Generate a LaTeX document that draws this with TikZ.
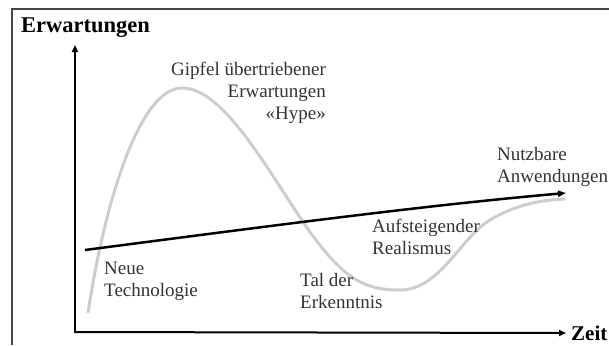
\documentclass[tikz,border=0pt]{standalone}
\usepackage{fontspec}
\setmainfont{Liberation Serif}
\usetikzlibrary{arrows.meta, positioning}
\definecolor{hypegray}{RGB}{205,205,205}
\definecolor{framegray}{RGB}{70,70,70}

\begin{document}
\begin{tikzpicture}[x=1pt, y=-1pt,
    label/.style={inner sep=0pt, font=\fontsize{19}{22}\selectfont, text=black!80},
    axis/.style={line width=2pt, -{Triangle[length=7pt, width=6pt]}}]
    \useasboundingbox (0,0) rectangle (609,345);
    % Rahmen links und oben
    \draw[framegray, line width=1.5pt] (12,345) -- (12,9) -- (609,9);

    % Achsen
    \coordinate (O) at (75,332);
    \coordinate (ytop) at (75,45);
    \node[inner sep=0pt, anchor=west, font=\fontsize{22.5}{24}\selectfont\bfseries] (erw) at (21,28) {Erwartungen};
    \node[inner sep=0pt, anchor=west, font=\fontsize{21}{24}\selectfont\bfseries] (zeit) at (571,333) {Zeit};
    \draw[axis] (O) -- (ytop);
    \draw[axis] ([xshift=-1pt]O) -- ([xshift=-5pt]zeit.west);

    % Hype-Kurve (grau)
    \coordinate (start) at (88,313);
    \coordinate (peak) at (182,88);
    \coordinate (fall) at (310,232);
    \coordinate (tal) at (400,290);
    \coordinate (rise) at (490,220);
    \coordinate (plateau) at (565,199);
    \draw[hypegray, line width=3pt]
        (start) .. controls (105,200) and (140,88) .. (peak)
        .. controls (225,88) and (270,175) .. (fall)
        .. controls (345,280) and (365,290) .. (tal)
        .. controls (440,290) and (460,238) .. (rise)
        .. controls (515,205) and (540,200) .. (plateau);

    % Trendlinie (schwarz)
    \coordinate (t0) at (85,250);
    \coordinate (t1) at (566,193);
    \draw[line width=2.5pt, -{Triangle[length=8pt, width=6pt]}] (t0) .. controls (300,222) and (430,205) .. (t1);

    % Beschriftungen
    \node[label, anchor=north east, align=right] (gipfel) at (326,62) {Gipfel übertriebener\\Erwartungen\\«Hype»};
    \node[label, anchor=west, align=left] (nutz) at (497,167) {Nutzbare\\Anwendungen};
    \node[label, anchor=west, align=left] (real) at (372,237) {Aufsteigender\\Realismus};
    \node[label, anchor=west, align=left] (erk) at (300,291) {Tal der\\Erkenntnis};
    \node[label, anchor=west, align=left] (neue) at (104,281) {Neue\\Technologie};
\end{tikzpicture}
\end{document}
